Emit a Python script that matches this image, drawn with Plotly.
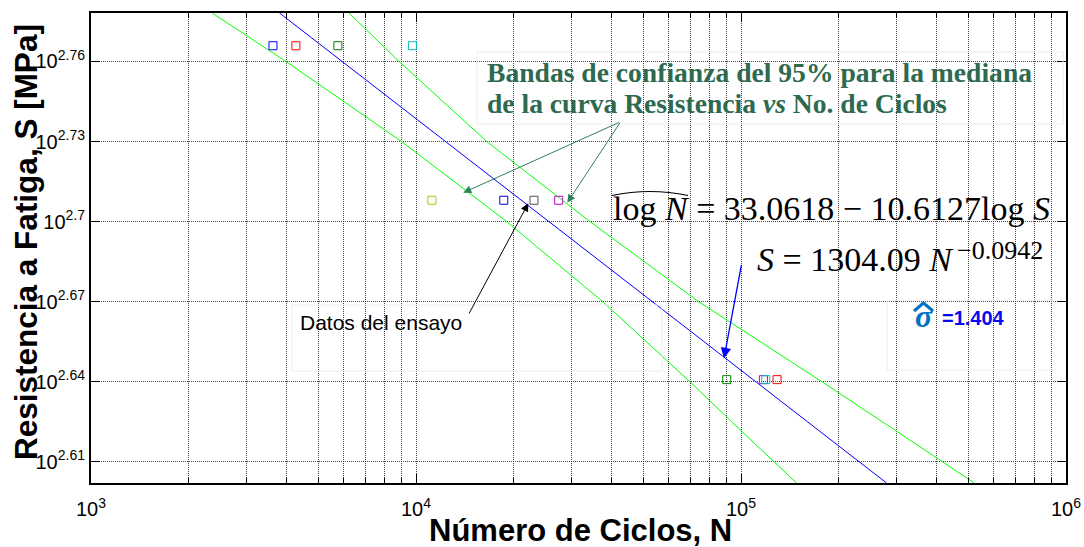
import math
import plotly.graph_objects as go

# ---------------- data ----------------
test_N = [3630, 4270, 5750, 9750, 11190, 18620, 23070, 27480, 90370, 117200, 119200, 129100]
test_S = [583.3, 583.3, 583.3, 583.3, 510.5, 510.5, 510.5, 510.5, 437.3, 437.3, 437.3, 437.3]
test_colors = ['#0000FF', '#FF0000', '#008000', '#00C0C0', '#C0C000', '#0000FF', '#505050',
               '#C000C0', '#008000', '#C000C0', '#00C0C0', '#FF0000']

median_N = [3802, 280500]
median_S = [600, 400]

lower_S = [600, 575.4, 537.0, 501.2, 467.7, 436.5, 418.8, 407.4, 400]
lower_N = [2360, 3981, 9036, 19010, 37580, 69660, 99310, 126800, 148300]
upper_S = [600, 575.4, 537.0, 501.2, 467.7, 436.5, 407.4, 400]
upper_N = [6223, 8872, 16520, 34280, 74130, 177500, 416900, 522400]

x_tick_vals = [1e3, 1e4, 1e5, 1e6]
x_tick_exps = ['3', '4', '5', '6']
y_tick_exps = ['2.61', '2.64', '2.67', '2.7', '2.73', '2.76']
y_tick_vals = [10 ** float(e) for e in y_tick_exps]
x_range_exp = [3, 6]
y_range = [400, 600]

# ---------------- layout geometry ----------------
PAGE_W, PAGE_H = 1084, 547
L, R, T, B = 91, 18, 13, 64  # plot area in page pixels
PW, PH = PAGE_W - L - R, PAGE_H - T - B


def px(x):
    return (x - L) / PW


def py(y):
    return (PAGE_H - B - y) / PH


x_tick_text = ['10<sup>{}</sup>'.format(e) for e in x_tick_exps]
y_tick_text = ['10<sup>{}</sup>'.format(e) for e in y_tick_exps]

fig = go.Figure()

fig.add_trace(go.Scatter(x=lower_N, y=lower_S, mode='lines',
                         line=dict(color='#00FF00', width=1), showlegend=False))
fig.add_trace(go.Scatter(x=upper_N, y=upper_S, mode='lines',
                         line=dict(color='#00FF00', width=1), showlegend=False))
fig.add_trace(go.Scatter(x=median_N, y=median_S, mode='lines',
                         line=dict(color='#0000FF', width=1), showlegend=False))
fig.add_trace(go.Scatter(x=test_N, y=test_S, mode='markers',
                         marker=dict(symbol='square-open', size=8,
                                     color=test_colors, line=dict(width=1, color=test_colors)),
                         showlegend=False))

grid_common = dict(gridcolor='#444444', griddash='1px,1px', gridwidth=1)
TICKFONT = dict(family='Liberation Sans, Arial', size=20, color='black')

fig.update_xaxes(type='log', range=x_range_exp, tickmode='array', tickvals=x_tick_vals,
                 ticktext=x_tick_text, ticks='inside', ticklen=9, tickcolor='black',
                 showline=True, linecolor='black', linewidth=2, mirror='ticks',
                 showgrid=True, **grid_common,
                 minor=dict(dtick='D1', ticks='inside', ticklen=5, tickcolor='black',
                            showgrid=True, **grid_common),
                 tickfont=TICKFONT, ticklabelstandoff=7, zeroline=False)
fig.update_yaxes(type='log', range=[math.log10(y_range[0]), math.log10(y_range[1])],
                 tickmode='array', tickvals=y_tick_vals,
                 ticktext=y_tick_text, ticks='inside', ticklen=9, tickcolor='black',
                 showline=True, linecolor='black', linewidth=2, mirror='ticks',
                 showgrid=True, **grid_common,
                 tickfont=TICKFONT, zeroline=False)

GREEN_TXT = '#2D6A4F'
GREEN_ARR = '#2F8060'
SERIF = 'Liberation Serif, Times New Roman'
SANS = 'Liberation Sans, Arial'


def note(x, y, text, font, xanchor='left', **kw):
    d = dict(x=px(x), y=py(y), xref='paper', yref='paper', xanchor=xanchor, yanchor='middle',
             text=text, showarrow=False, font=font)
    d.update(kw)
    return d


def arrow(x, y, ax, ay, color, width=1.0):
    return dict(x=px(x), y=py(y), xref='paper', yref='paper', text='', showarrow=True,
                ax=ax, ay=ay, arrowhead=2, arrowsize=1.6, arrowwidth=width,
                arrowcolor=color, standoff=0)


annotations = [
    # axis titles
    note(580, 530, '<b>Número de Ciclos, N</b>', dict(family=SANS, size=31, color='black'),
         xanchor='center'),
    note(26, 242, '<b>Resistencia a Fatiga, S [MPa]</b>', dict(family=SANS, size=31.5, color='black'),
         xanchor='center', textangle=-90),
    # bands label
    note(485, 73, '<b>Bandas de confianza del 95% para la mediana</b>',
         dict(family=SERIF, size=27.6, color=GREEN_TXT)),
    note(485, 103, '<b>de la curva Resistencia <i>vs</i> No. de Ciclos</b>',
         dict(family=SERIF, size=27.6, color=GREEN_TXT)),
    arrow(463.3, 192.7, 157.4, -71, GREEN_ARR),
    arrow(567.3, 202.7, 53.4, -81, GREEN_ARR),
    # equations
    note(611, 208, 'log <i>N</i> = 33.0618 − 10.6127log <i>S</i>',
         dict(family=SERIF, size=34, color='black')),
    note(755, 259, '<i>S</i> = 1304.09 <i>N</i>',
         dict(family=SERIF, size=34, color='black')),
    note(955, 250, '−0.0942', dict(family=SERIF, size=26, color='black')),
    arrow(724, 358.3, 17.7, -95, '#0000FF', 1.3),
    # sigma
    note(924, 316, '<b><i>σ</i></b>', dict(family=SERIF, size=32, color='#0070C0'),
         xanchor='center'),
    note(940, 318, '<b>=1.404</b>', dict(family=SANS, size=20, color='#0A0AF0')),
    # datos del ensayo
    note(298, 322, 'Datos del ensayo', dict(family=SANS, size=21, color='black')),
    arrow(528.3, 203.3, -60, 111.7, 'black'),
]


def path_paper(points, cmd='L'):
    s = 'M {:.5f},{:.5f}'.format(px(points[0][0]), py(points[0][1]))
    if cmd == 'Q':
        s += ' Q {:.5f},{:.5f} {:.5f},{:.5f}'.format(px(points[1][0]), py(points[1][1]),
                                                     px(points[2][0]), py(points[2][1]))
    else:
        for p in points[1:]:
            s += ' L {:.5f},{:.5f}'.format(px(p[0]), py(p[1]))
    return s


shapes = [
    dict(type='path', xref='paper', yref='paper',
         path=path_paper([(612, 195.5), (650, 187.5), (688, 195.5)], 'Q'),
         line=dict(color='black', width=1.2)),
    dict(type='path', xref='paper', yref='paper',
         path=path_paper([(914, 311), (923.5, 303), (933, 311)]),
         line=dict(color='#0070C0', width=3)),
    dict(type='rect', xref='paper', yref='paper', x0=px(477), x1=px(1063), y0=py(52), y1=py(124),
         line=dict(color='#EEEEEE', width=1)),
    dict(type='rect', xref='paper', yref='paper', x0=px(292), x1=px(662), y0=py(305), y1=py(371),
         line=dict(color='#EEEEEE', width=1)),
    dict(type='rect', xref='paper', yref='paper', x0=px(887), x1=px(1054), y0=py(300), y1=py(370),
         line=dict(color='#EEEEEE', width=1)),
]

fig.update_layout(width=PAGE_W, height=PAGE_H,
                  margin=dict(l=L, r=R, t=T, b=B, autoexpand=False),
                  paper_bgcolor='white', plot_bgcolor='white',
                  annotations=annotations, shapes=shapes, showlegend=False)

fig.write_html('out.html', config={'displayModeBar': False},
               post_script="document.body.style.margin='0px';")
